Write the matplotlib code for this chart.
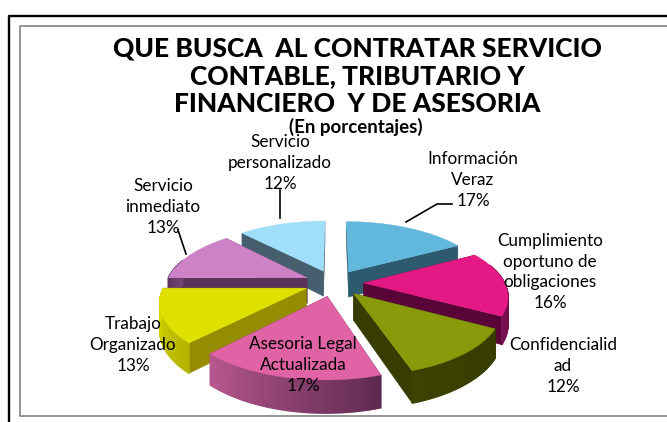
import numpy as np
import matplotlib
matplotlib.use("Agg")
import matplotlib.pyplot as plt
from matplotlib.patches import Polygon

categories = ["Información\nVeraz", "Cumplimiento\noportuno de\nobligaciones", "Confidencialid\nad",
              "Asesoria Legal\nActualizada", "Trabajo\nOrganizado", "Servicio\ninmediato", "Servicio\npersonalizado"]
values = [17, 16, 12, 17, 13, 13, 12]
top_colors = ["#62b8dc", "#e41985", "#88990a", "#e064a5", "#e1e100", "#cd82c8", "#a0defa"]
side_colors = ["#2d5a6e", "#5a0537", "#373c00", "#5f2a50", "#968c00", "#5a325a", "#465f6e"]
arc_light = ["#62b8dc", "#7a1050", "#3c4200", "#b8588f", "#dcdc00", "#a060a0", "#80b0c8"]
arc_dark = ["#2d5a6e", "#5a0537", "#373c00", "#5f2a50", "#b4b400", "#5a325a", "#465f6e"]
title = "QUE BUSCA  AL CONTRATAR SERVICIO\nCONTABLE, TRIBUTARIO Y\nFINANCIERO  Y DE ASESORIA"
subtitle = "(En porcentajes)"
label_xy = [(473, 180), (550, 272), (563, 366), (303, 365), (133, 345), (163, 207), (280, 163)]

plt.rcParams["font.family"] = ["Lato", "DejaVu Sans"]
fig = plt.figure(figsize=(6.67, 4.22), dpi=100)
ax = fig.add_axes([0, 0, 1, 1])
ax.set_xlim(0, 667)
ax.set_ylim(422, 0)
ax.axis("off")

# frames
ax.plot([9, 9, 667], [422, 16, 16], color="black", lw=1.7, solid_capstyle="butt")
ax.plot([667, 20, 20, 667], [26, 26, 415.5, 415.5], color="#8c8c8c", lw=1.3, solid_capstyle="butt")

CX, CY, A, B, H, K, EX = 334, 283, 141, 63, 26, 0.18, 0.21

def proj(X, Y, z):
    s = 1 / (1 + K * Y)
    return CX + A * X * s, CY - B * Y * s + H * z * s

def pt(t, r, off):
    return off[0] + r * np.sin(t), off[1] + r * np.cos(t)

def hexrgb(c):
    return np.array(matplotlib.colors.to_rgb(c))

edges = np.radians(np.concatenate([[0], np.cumsum(values)]) * 3.6)
order = [0, 6, 5, 1, 4, 2, 3]
for i in order:
    t0, t1 = edges[i], edges[i + 1]
    mid = (t0 + t1) / 2
    off = (EX * np.sin(mid), EX * np.cos(mid))
    ts = np.linspace(t0, t1, 60)
    rim = [pt(t, 1, off) for t in ts]
    top = [proj(*off, 0)] + [proj(*p, 0) for p in rim]
    faces = sorted([t0, t1], key=lambda t: -np.cos(t))
    for t in faces:
        p = pt(t, 1, off)
        ax.add_patch(Polygon([proj(*off, 0), proj(*p, 0), proj(*p, 1), proj(*off, 1)],
                             fc=side_colors[i], ec=side_colors[i], lw=0.3))
    for j in range(len(ts) - 1):
        f = 1 - j / (len(ts) - 2)
        col = hexrgb(arc_light[i]) * (1 - f) + hexrgb(arc_dark[i]) * f
        if np.cos((ts[j] + ts[j + 1]) / 2) < 0.3:
            ax.add_patch(Polygon([proj(*rim[j], 0), proj(*rim[j + 1], 0), proj(*rim[j + 1], 1), proj(*rim[j], 1)],
                                 fc=col, ec=col, lw=1.0))
    ax.add_patch(Polygon(top, fc=top_colors[i], ec=top_colors[i], lw=0.3))

for name, v, (x, y) in zip(categories, values, label_xy):
    ax.text(x, y, f"{name}\n{v}%", ha="center", va="center", fontsize=12.3, color="black", linespacing=1.36)

ax.plot([406, 437, 452], [222, 204, 204], color="black", lw=1.2)
ax.plot([280, 280], [190, 218], color="black", lw=1.2)
ax.plot([178, 186], [230, 254], color="black", lw=1.2)

ax.text(357, 76, title, ha="center", va="center", fontsize=19, fontweight="black", linespacing=1.18)
ax.text(356, 127, subtitle, ha="center", va="center", fontsize=13.5, fontweight="bold")

fig.savefig("out.png", dpi=100)
